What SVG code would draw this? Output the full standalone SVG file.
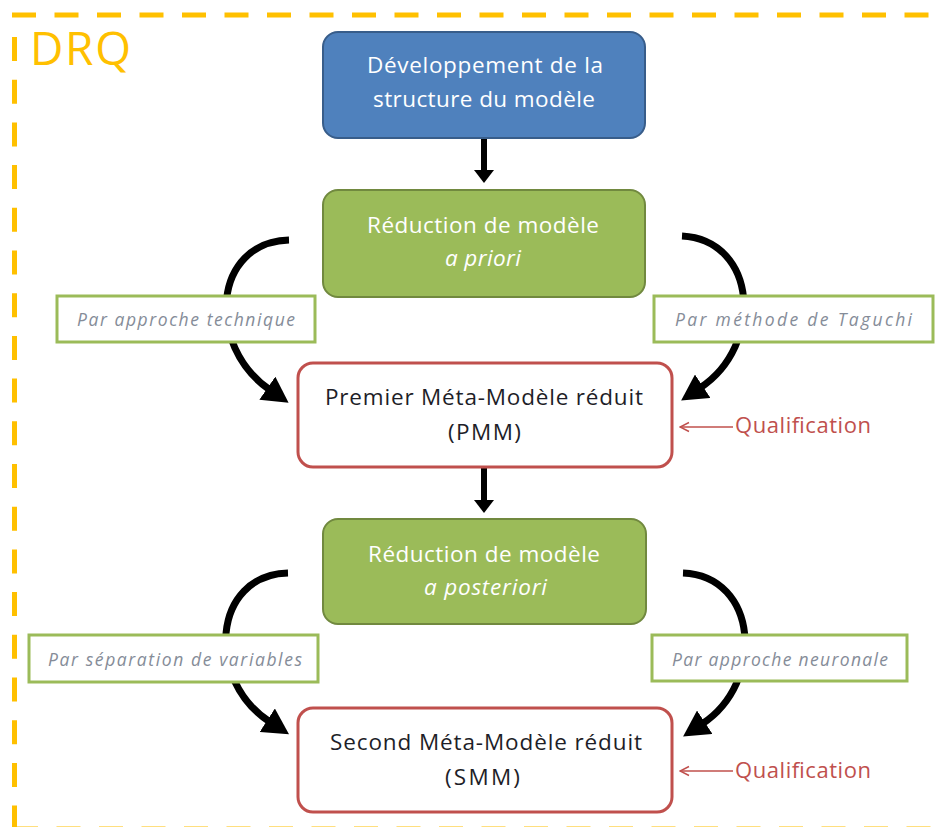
<svg xmlns="http://www.w3.org/2000/svg" width="944" height="827" viewBox="0 0 944 827">
<style>
.frame{fill:none;stroke:#FFC000;stroke-width:5}
.t{font-family:"Open Sans","Liberation Sans",sans-serif;text-anchor:middle}
.main{font-size:22.5px}
.w{fill:#FFFFFF}
.dk{fill:#1E1E28}
.lab{font-size:17.5px;font-style:italic;fill:#858C98}
.lbox{fill:#FFFFFF;stroke:#9BBB59;stroke-width:3}
.blue{fill:#4F81BD;stroke:#385D8A;stroke-width:2}
.green{fill:#9BBB59;stroke:#71893F;stroke-width:2}
.red{fill:#FFFFFF;stroke:#C0504D;stroke-width:3}
.curve{fill:none;stroke:#000;stroke-width:7}
.shaft{fill:none;stroke:#000;stroke-width:6}
.qual{font-size:22px;fill:#C0504D}
.qline{fill:none;stroke:#C0504D;stroke-width:1.3}
</style>
<defs>
<marker id="big" markerUnits="userSpaceOnUse" markerWidth="26" markerHeight="28" viewBox="0 0 24 26" refX="3" refY="13" orient="auto">
<path d="M0,0 L24,13 L0,26 Z" fill="#000"/>
</marker>
<marker id="open" markerUnits="userSpaceOnUse" markerWidth="12" markerHeight="12" viewBox="0 0 12 12" refX="11" refY="6" orient="auto">
<path d="M2,1.5 L11,6 L2,10.5" fill="none" stroke="#C0504D" stroke-width="1.5"/>
</marker>
</defs>
<rect width="944" height="827" fill="#FFFFFF"/>
<g id="frame">
<path class="frame" d="M12 15 H944" stroke-dasharray="24 18.5"/>
<path class="frame" d="M14.5 37 V827" stroke-dasharray="24 18.7"/>
<path class="frame" d="M14 829 H944" stroke-dasharray="24 18.5"/>
<text x="30" y="65" style="font-family:'Open Sans','Liberation Sans',sans-serif;font-size:46px;fill:#FFC000" textLength="101">DRQ</text>
</g>
<g id="connectors">
<path class="shaft" d="M484 139 V171"/>
<polygon points="474,170 494,170 484,183"/>
<path class="shaft" d="M484 468 V501"/>
<polygon points="474,500 494,500 484,513"/>
<path class="curve" d="M289 240 C213 242,205 345,270 390" marker-end="url(#big)"/>
<path class="curve" d="M682 236 C757 240,765 345,700 388" marker-end="url(#big)"/>
<path class="curve" d="M288 573 C212 575,205 680,270 722" marker-end="url(#big)"/>
<path class="curve" d="M683 573 C758 576,766 682,702 724" marker-end="url(#big)"/>
<path class="qline" d="M733 427 H680" marker-end="url(#open)"/>
<path class="qline" d="M733 771 H680" marker-end="url(#open)"/>
</g>
<g id="dev">
<rect class="blue" x="323" y="32" width="322" height="106" rx="15"/>
<text class="t main w" x="485" y="73" textLength="236">Développement de la</text>
<text class="t main w" x="484" y="107" textLength="222">structure du modèle</text>
</g>
<g id="red1">
<rect class="green" x="323" y="190" width="322" height="107" rx="15"/>
<text class="t main w" x="483" y="233" textLength="232">Réduction de modèle</text>
<text class="t main w" x="483" y="266" font-style="italic" textLength="76">a priori</text>
</g>
<g id="lab1">
<rect class="lbox" x="57" y="296" width="258" height="46"/>
<text class="t lab" x="186" y="326" textLength="218">Par approche technique</text>
</g>
<g id="lab2">
<rect class="lbox" x="654" y="296" width="279" height="46"/>
<text class="t lab" x="793.5" y="326" textLength="237">Par méthode de  Taguchi</text>
</g>
<g id="pmm">
<rect class="red" x="298" y="363" width="374" height="104" rx="15"/>
<text class="t main dk" x="484" y="405" textLength="318">Premier Méta-Modèle réduit</text>
<text class="t main dk" x="484.5" y="440" textLength="73">(PMM)</text>
</g>
<g id="qual1">
<text class="t qual" x="803" y="433" textLength="136">Qualification</text>
</g>
<g id="red2">
<rect class="green" x="323" y="519" width="323" height="105" rx="15"/>
<text class="t main w" x="484" y="562" textLength="232">Réduction de modèle</text>
<text class="t main w" x="485.5" y="595" font-style="italic" textLength="123">a posteriori</text>
</g>
<g id="lab3">
<rect class="lbox" x="29" y="635" width="289" height="47"/>
<text class="t lab" x="175" y="666" textLength="254">Par séparation de variables</text>
</g>
<g id="lab4">
<rect class="lbox" x="652" y="635" width="255" height="46"/>
<text class="t lab" x="780" y="666" textLength="216">Par approche neuronale</text>
</g>
<g id="smm">
<rect class="red" x="298" y="708" width="374" height="104" rx="15"/>
<text class="t main dk" x="486" y="750" textLength="312">Second Méta-Modèle réduit</text>
<text class="t main dk" x="482.5" y="785" textLength="75">(SMM)</text>
</g>
<g id="qual2">
<text class="t qual" x="803" y="778" textLength="136">Qualification</text>
</g>
</svg>
